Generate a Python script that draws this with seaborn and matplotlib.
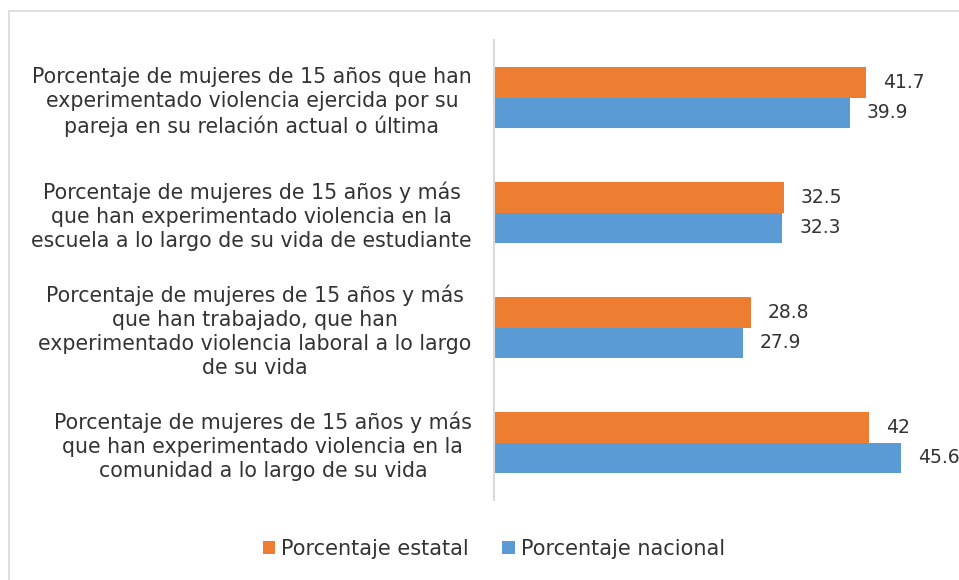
import pandas as pd
import matplotlib.pyplot as plt
import seaborn as sns
from matplotlib.lines import Line2D

categorias = [
    "Porcentaje de mujeres de 15 años que han\nexperimentado violencia ejercida por su\npareja en su relación actual o última",
    "Porcentaje de mujeres de 15 años y más\nque han experimentado violencia en la\nescuela a lo largo de su vida de estudiante",
    "Porcentaje de mujeres de 15 años y más\nque han trabajado, que han\nexperimentado violencia laboral a lo largo\nde su vida",
    "Porcentaje de mujeres de 15 años y más\nque han experimentado violencia en la\ncomunidad a lo largo de su vida",
]
series = ["Porcentaje estatal", "Porcentaje nacional"]
estatal = [41.7, 32.5, 28.8, 42]
nacional = [39.9, 32.3, 27.9, 45.6]
etiquetas_estatal = ["41.7", "32.5", "28.8", "42"]
etiquetas_nacional = ["39.9", "32.3", "27.9", "45.6"]

colores = ["#ED7D31", "#5B9BD5"]
texto = "#333333"


def main():
    df = pd.DataFrame({
        "categoria": categorias * 2,
        "serie": [series[0]] * 4 + [series[1]] * 4,
        "valor": estatal + nacional,
    })

    sns.set_style("white")
    plt.rcParams['font.family'] = ['DejaVu Sans']

    fig = plt.figure(figsize=(9.59, 5.80), dpi=100)
    ax = fig.add_axes([494 / 959, 1 - 500 / 580, 446.5 / 959, 460 / 580])

    sns.barplot(data=df, y="categoria", x="valor", hue="serie",
                order=categorias, hue_order=series, palette=colores,
                orient="h", width=0.525, saturation=1, ax=ax,
                errorbar=None, legend=True, linewidth=0)

    ax.set_xlim(0, 50)
    ax.set_ylim(3.5, -0.5)
    ax.set_xlabel("")
    ax.set_ylabel("")
    ax.set_xticks([])
    for s in ["top", "right", "bottom"]:
        ax.spines[s].set_visible(False)
    ax.spines["left"].set_color("#D9D9D9")
    ax.spines["left"].set_linewidth(1.5)

    ax.tick_params(axis="y", length=0, pad=16, labelsize=14.8, labelcolor=texto)
    for lbl in ax.get_yticklabels():
        lbl.set_multialignment("center")
        lbl.set_linespacing(1.25)

    etiquetas = [etiquetas_estatal, etiquetas_nacional]
    for cont, labs in zip(ax.containers, etiquetas):
        ax.bar_label(cont, labels=labs, padding=12, fontsize=13.5, color=texto)

    leg = ax.legend(loc="center", bbox_to_anchor=(494 / 959, 1 - 549 / 580),
                    bbox_transform=fig.transFigure, ncol=2, frameon=False,
                    fontsize=15, handlelength=0.6, handleheight=0.6,
                    handletextpad=0.3, columnspacing=1.6)
    for t in leg.get_texts():
        t.set_color(texto)

    # borde del grafico
    fig.add_artist(Line2D([9 / 959, 1], [1 - 11 / 580, 1 - 11 / 580],
                          transform=fig.transFigure, color="#D9D9D9", lw=1.2))
    fig.add_artist(Line2D([9 / 959, 9 / 959], [0, 1 - 11 / 580],
                          transform=fig.transFigure, color="#D9D9D9", lw=1.2))

    fig.savefig("out.png", dpi=100)


if __name__ == "__main__":
    main()
